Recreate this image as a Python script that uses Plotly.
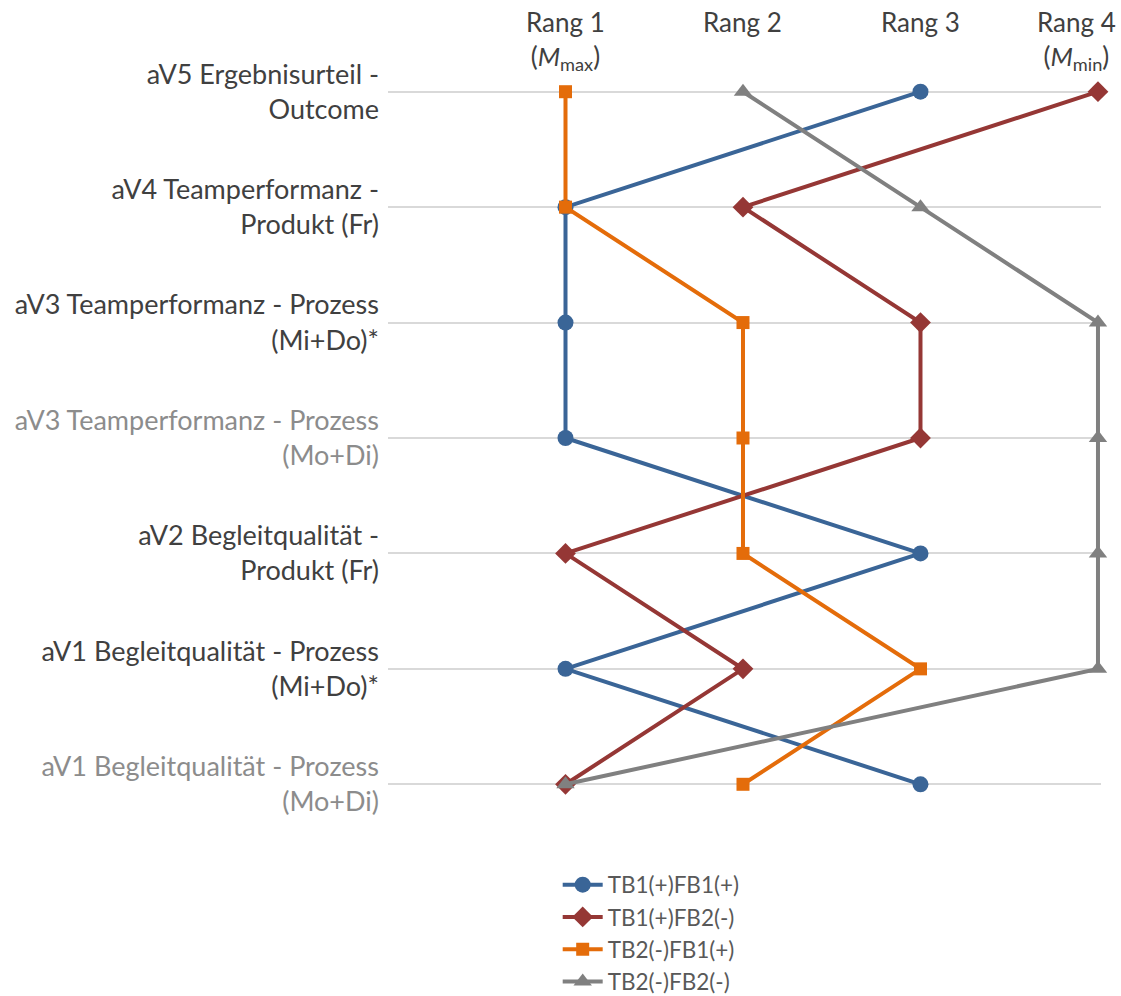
import plotly.graph_objects as go

# Row labels from bottom to top (y = 0 .. 6)
categories = [
    "aV1 Begleitqualität - Prozess<br>(Mo+Di)",
    "aV1 Begleitqualität - Prozess<br>(Mi+Do)*",
    "aV2 Begleitqualität -<br>Produkt (Fr)",
    "aV3 Teamperformanz - Prozess<br>(Mo+Di)",
    "aV3 Teamperformanz - Prozess<br>(Mi+Do)*",
    "aV4 Teamperformanz -<br>Produkt (Fr)",
    "aV5 Ergebnisurteil -<br>Outcome",
]
label_muted = [True, False, False, True, False, False, False]

rank_vals = [1, 2, 3, 4]
rank_labels = ["Rang 1<br>(<i>M</i><sub>max</sub>)", "Rang 2", "Rang 3",
               "Rang 4<br>(<i>M</i><sub>min</sub>)"]

# Rank per row, bottom to top
tb1p_fb1p = [3, 1, 3, 1, 1, 1, 3]
tb1p_fb2m = [1, 2, 1, 3, 3, 2, 4]
tb2m_fb1p = [2, 3, 2, 2, 2, 1, 1]
tb2m_fb2m = [1, 4, 4, 4, 4, 3, 2]

series = [
    ("TB1(+)FB1(+)", tb1p_fb1p, "#3a6597", "circle", 16),
    ("TB1(+)FB2(-)", tb1p_fb2m, "#953735", "diamond", 16),
    ("TB2(-)FB1(+)", tb2m_fb1p, "#e46c0a", "square", 13),
    ("TB2(-)FB2(-)", tb2m_fb2m, "#808080", "triangle-up", 16),
]

FONT = "Lato, Open Sans, sans-serif"
rows = list(range(len(categories)))

fig = go.Figure()
for name, vals, color, sym, size in series:
    fig.add_trace(go.Scatter(
        x=vals, y=rows, name=name, mode="lines+markers",
        line=dict(color=color, width=4),
        marker=dict(symbol=sym, size=size, color=color),
        cliponaxis=False,
    ))

ticktext = [
    f'<span style="color:{"#8c8c8c" if m else "#404040"}">{c}</span>'
    for c, m in zip(categories, label_muted)
]

fig.update_yaxes(
    range=[-0.5, 6.5], tickvals=rows, ticktext=ticktext,
    showgrid=True, gridcolor="#d9d9d9", gridwidth=1.5,
    zeroline=False, showline=False, ticks="", ticklabelstandoff=8,
    tickfont=dict(size=27, family=FONT),
)
# small headroom past rank 4 so the lines at the right edge are not clipped
fig.update_xaxes(
    range=[0, 4.017], showgrid=False, zeroline=False, showline=False,
    showticklabels=False, ticks="",
)

# Rank headers above the plot; the last one is pulled in from the right edge
header_shift = [0, 0, 0, -21]
for v, t, dx in zip(rank_vals, rank_labels, header_shift):
    fig.add_annotation(
        x=v, y=1.0, xref="x", yref="paper", yshift=30, xshift=dx,
        text=t, showarrow=False, yanchor="top", xanchor="center",
        font=dict(size=26, color="#404040", family=FONT),
    )

fig.update_layout(
    width=1121, height=996,
    margin=dict(l=388, r=20, t=34, b=154),
    paper_bgcolor="white", plot_bgcolor="white",
    showlegend=True,
    legend=dict(
        x=0.238, y=0.133, xanchor="left", yanchor="top", yref="container",
        font=dict(size=22.5, color="#595959", family=FONT),
        tracegroupgap=0, itemwidth=40,
        bgcolor="rgba(0,0,0,0)",
    ),
)

fig.write_html("out.html")
